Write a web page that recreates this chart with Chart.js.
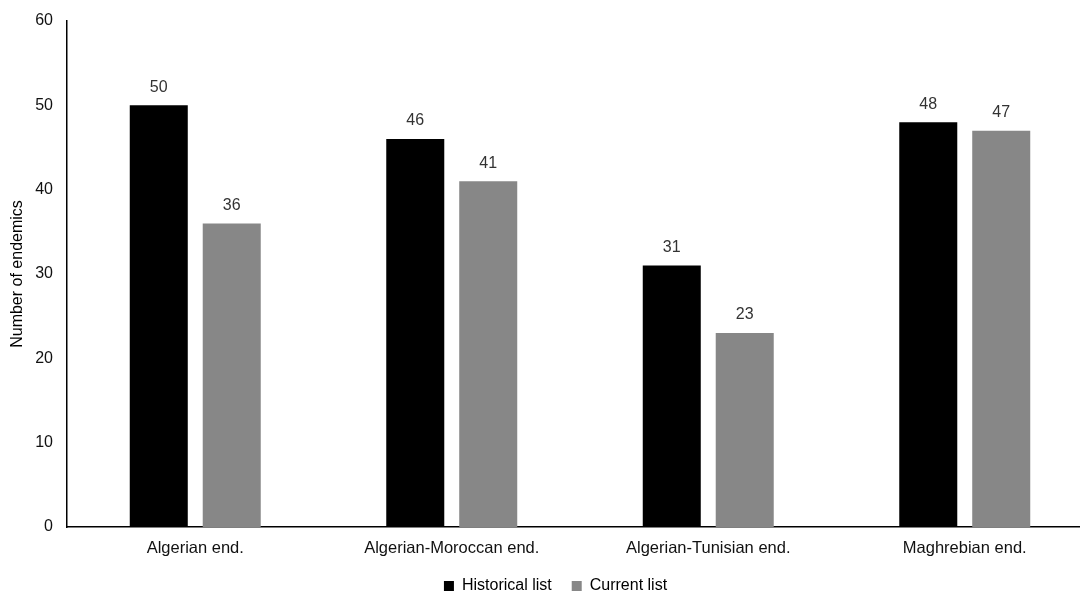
<!DOCTYPE html>
<html>
<head>
<meta charset="utf-8">
<script src="https://cdn.jsdelivr.net/npm/chart.js@4"></script>
<style>
  html, body { margin: 0; padding: 0; background: #fff; overflow: hidden; }
  #wrap { width: 1110px; height: 594px; }
</style>
</head>
<body>
<div id="wrap"><canvas id="myChart"></canvas></div>
<script>
const categories = ["Algerian end.", "Algerian-Moroccan end.", "Algerian-Tunisian end.", "Maghrebian end."];
const historical = [50, 46, 31, 48];
const current = [36, 41, 23, 47];
const yTicks = [0, 10, 20, 30, 40, 50, 60];

Chart.defaults.font.family = "'Liberation Sans', Arial, sans-serif";
Chart.defaults.color = '#404040';

// draw value above each bar
const valueLabels = {
  id: 'valueLabels',
  afterDatasetsDraw(chart) {
    const ctx = chart.ctx;
    ctx.save();
    ctx.font = "16px 'Liberation Sans', Arial, sans-serif";
    ctx.fillStyle = '#333';
    ctx.textAlign = 'center';
    ctx.textBaseline = 'middle';
    chart.data.datasets.forEach((ds, i) => {
      chart.getDatasetMeta(i).data.forEach((bar, j) => {
        ctx.fillText(ds.data[j], bar.x, bar.y - 18);
      });
    });
    ctx.restore();
  }
};

// fixed legend height, then nudge it a little to the right
const legendShift = {
  id: 'legendShift',
  beforeInit(chart) {
    const fit = chart.legend.fit;
    chart.legend.fit = function () {
      fit.bind(chart.legend)();
      this.height = 36;
    };
  },
  afterLayout(chart) {
    const lg = chart.legend;
    lg.left += 5; lg.right += 5;
  }
};

const ctx = document.getElementById('myChart').getContext('2d');
const myChart = new Chart(ctx, {
  type: 'bar',
  data: {
    labels: categories,
    datasets: [
      { label: 'Historical list', data: historical, backgroundColor: '#000000' },
      { label: 'Current list', data: current, backgroundColor: '#878787' }
    ]
  },
  options: {
    responsive: true,
    maintainAspectRatio: false,
    animation: false,
    categoryPercentage: 0.569,
    barPercentage: 0.795,
    layout: { padding: { top: 21, right: 17, left: 8, bottom: 0 } },
    plugins: {
      legend: {
        position: 'bottom',
        labels: {
          boxWidth: 10, boxHeight: 10, padding: 20,
          color: '#000', font: { size: 16 }
        }
      },
      tooltip: { enabled: false }
    },
    scales: {
      x: {
        afterFit(axis) { axis.height = 31; },
        grid: { display: false, drawTicks: false },
        border: { color: '#000', width: 1.5 },
        ticks: { color: '#111', font: { size: 16.5 }, padding: 12 }
      },
      y: {
        min: 0, max: 60,
        afterBuildTicks(axis) { axis.ticks = yTicks.map(v => ({ value: v })); },
        afterFit(axis) { axis.width = 59; axis.paddingTop = 0; axis.paddingBottom = 0; },
        grid: { display: false, drawTicks: false },
        border: { color: '#000', width: 1.5 },
        ticks: { color: '#111', font: { size: 16 }, padding: 14 },
        title: { display: true, text: 'Number of endemics', color: '#000', font: { size: 16 }, padding: 0 }
      }
    }
  },
  plugins: [valueLabels, legendShift]
});
</script>
</body>
</html>
